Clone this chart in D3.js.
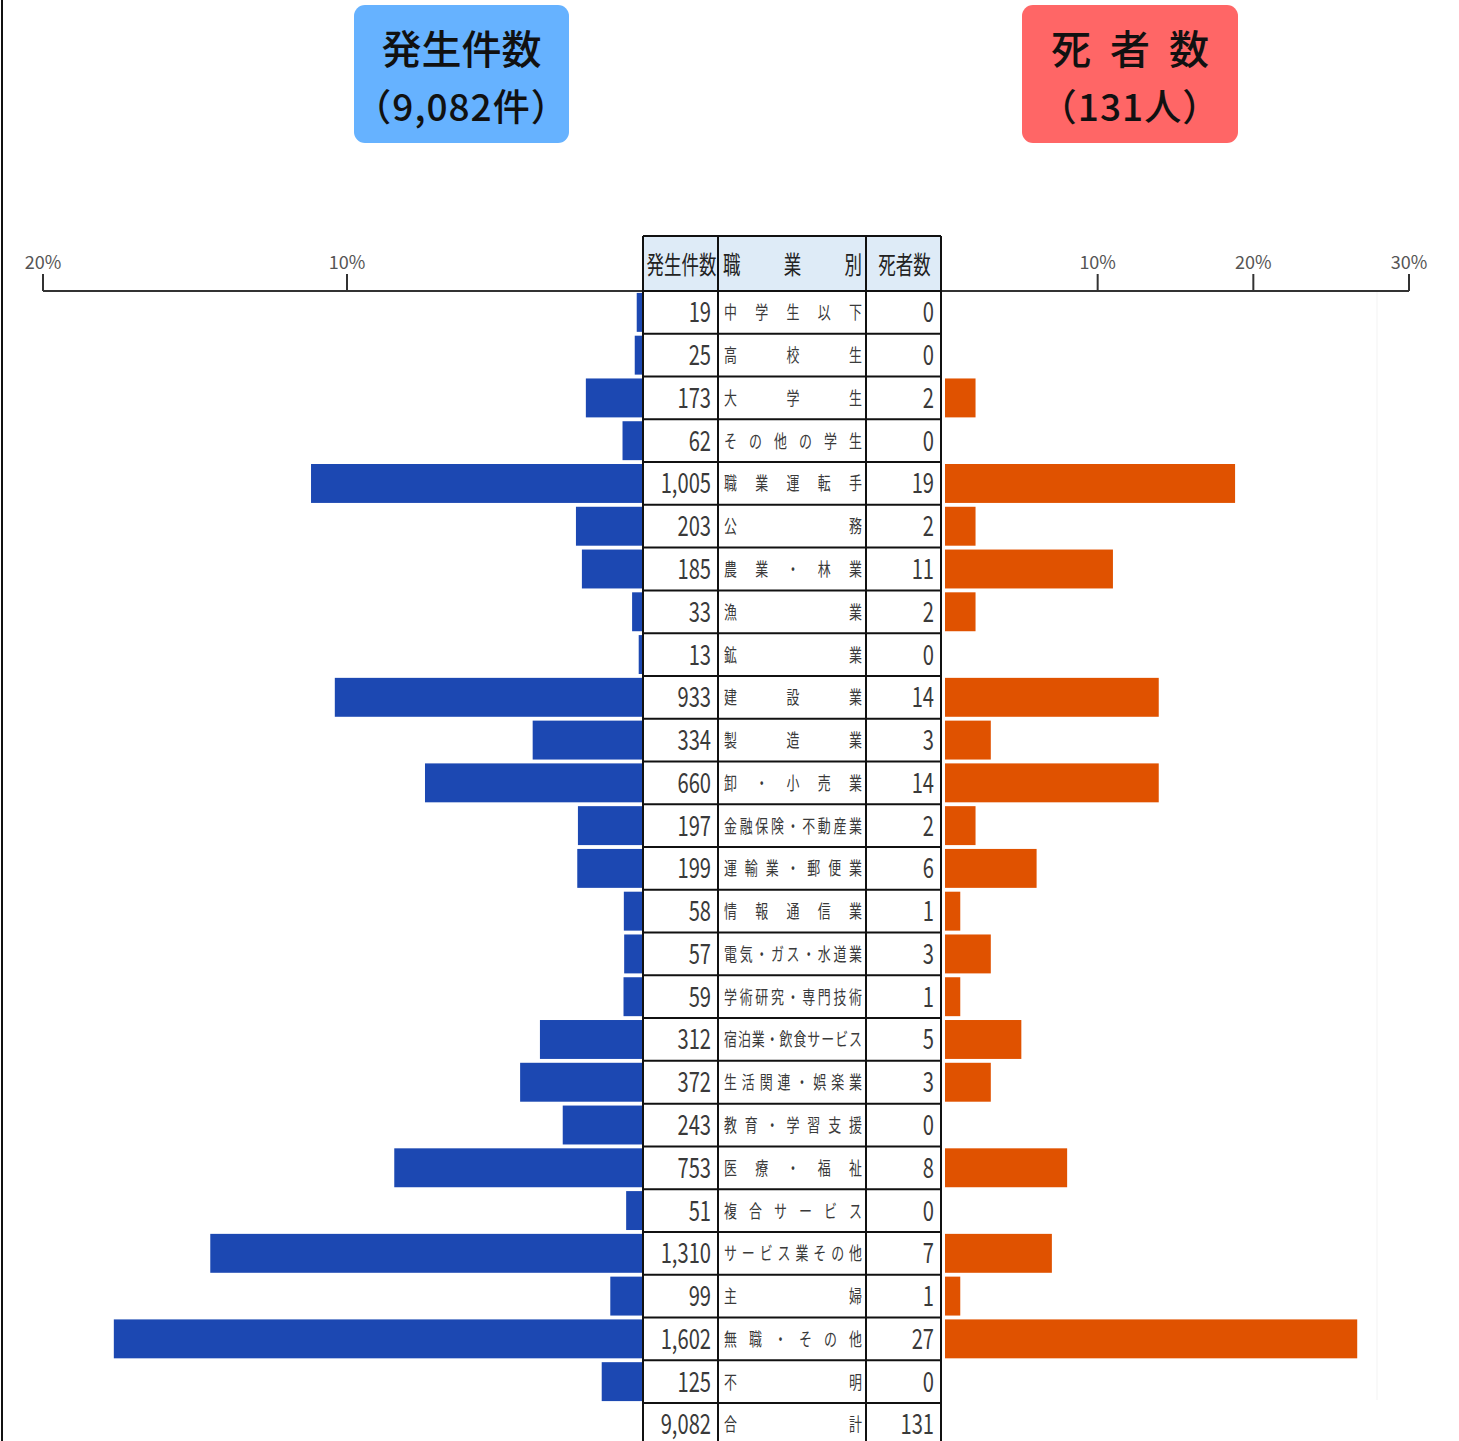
<!DOCTYPE html>
<html>
<head>
<meta charset="utf-8">
<script src="https://cdn.jsdelivr.net/npm/d3@7"></script>
<style>
  html, body { margin: 0; padding: 0; background: #fff; }
  svg { display: block; }
</style>
</head>
<body>
<div id="chart"></div>
<script>
// occupation rows, top to bottom
const categories = [
  "中学生以下", "高校生", "大学生", "その他の学生", "職業運転手", "公務",
  "農業・林業", "漁業", "鉱業", "建設業", "製造業", "卸・小売業",
  "金融保険・不動産業", "運輸業・郵便業", "情報通信業", "電気・ガス・水道業",
  "学術研究・専門技術", "宿泊業・飲食サービス", "生活関連・娯楽業", "教育・学習支援",
  "医療・福祉", "複合サービス", "サービス業その他", "主婦", "無職・その他", "不明"
];
const cases = [19, 25, 173, 62, 1005, 203, 185, 33, 13, 933, 334, 660, 197, 199, 58, 57, 59, 312, 372, 243, 753, 51, 1310, 99, 1602, 125];
const deaths = [0, 0, 2, 0, 19, 2, 11, 2, 0, 14, 3, 14, 2, 6, 1, 3, 1, 5, 3, 0, 8, 0, 7, 1, 27, 0];
const totalLabel = "合計";
const leftTicks = [20, 10];
const rightTicks = [10, 20, 30];
const headers = ["発生件数", "職業別", "死者数"];
const titleLeft = ["発生件数", "（9,082件）"];
const titleRight = ["死 者 数", "（131人）"];

const W = 1459, H = 1441;
const totalCases = d3.sum(cases);
const totalDeaths = d3.sum(deaths);
const fmt = d3.format(",");

const svg = d3.select("#chart").append("svg")
  .attr("width", W).attr("height", H)
  .style("font-family", "'Noto Sans CJK JP', 'Noto Sans', sans-serif");

// table geometry
const colX = [643, 718, 866, 941];
const headTop = 236;
const bodyTop = 291;
const rowH = 42.77;
const rowCount = categories.length + 1;

// scales
const yRow = d3.scaleBand().domain(d3.range(rowCount))
  .range([bodyTop, bodyTop + rowH * rowCount]);
const yBar = d3.scaleBand().domain(categories)
  .range([bodyTop, bodyTop + rowH * categories.length])
  .paddingInner(0.09).paddingOuter(0.045);
const xCases = d3.scaleLinear().domain([0, 20]).range([643, 43]);
const xLeftAxis = d3.scaleLinear().domain([0, 10, 20]).range([643, 347, 43]);
const xDeaths = d3.scaleLinear().domain([0, 30]).range([945, 1545]);
const xRightAxis = d3.scaleLinear().domain([0, 30]).range([942, 1409]);

// frame line on the left
svg.append("line").attr("x1", 2).attr("x2", 2).attr("y1", 0).attr("y2", H)
  .attr("stroke", "#111").attr("stroke-width", 2);

// faint plot-area edge
svg.append("line").attr("x1", 1377).attr("x2", 1377).attr("y1", 292).attr("y2", 1400)
  .attr("stroke", "#f3f3f3").attr("stroke-width", 1);

// title boxes
function titleBox(x, w, fill, lines, spacing) {
  const g = svg.append("g");
  g.append("rect").attr("x", x).attr("y", 5).attr("width", w).attr("height", 138)
    .attr("rx", 11).attr("fill", fill);
  g.append("text").attr("x", x + w / 2 + spacing / 2).attr("y", 64)
    .attr("text-anchor", "middle").attr("font-size", 40).attr("font-weight", 500)
    .attr("letter-spacing", spacing).attr("fill", "#111").text(lines[0]);
  g.append("text").attr("x", x + w / 2).attr("y", 121)
    .attr("text-anchor", "middle").attr("font-size", 37).attr("font-weight", 500)
    .attr("letter-spacing", 1).attr("fill", "#111").text(lines[1]);
}
titleBox(354, 215, "#66b2ff", titleLeft, 0);
titleBox(1022, 216, "#ff6666", titleRight, 5);

// axes
const axisY = 291;
const axisG = svg.append("g").attr("stroke", "#333").attr("stroke-width", 2);
axisG.append("line").attr("x1", xLeftAxis(20)).attr("x2", 643).attr("y1", axisY).attr("y2", axisY);
axisG.append("line").attr("x1", 941).attr("x2", xRightAxis(30)).attr("y1", axisY).attr("y2", axisY);
axisG.selectAll(".lt").data(leftTicks).join("line")
  .attr("x1", d => xLeftAxis(d)).attr("x2", d => xLeftAxis(d))
  .attr("y1", axisY - 17).attr("y2", axisY);
axisG.selectAll(".rt").data(rightTicks).join("line")
  .attr("class", "rt")
  .attr("x1", d => xRightAxis(d)).attr("x2", d => xRightAxis(d))
  .attr("y1", axisY - 17).attr("y2", axisY);
svg.selectAll(".ltl").data(leftTicks).join("text")
  .attr("class", "ltl")
  .attr("x", d => xLeftAxis(d)).attr("y", 269)
  .attr("text-anchor", "middle").attr("font-size", 18).attr("fill", "#555")
  .text(d => d + "%");
svg.selectAll(".rtl").data(rightTicks).join("text")
  .attr("class", "rtl")
  .attr("x", d => xRightAxis(d)).attr("y", 269)
  .attr("text-anchor", "middle").attr("font-size", 18).attr("fill", "#555")
  .text(d => d + "%");

// bars
svg.append("g").selectAll("rect").data(categories).join("rect")
  .attr("x", (d, i) => xCases(cases[i] / totalCases * 100))
  .attr("y", d => yBar(d))
  .attr("width", (d, i) => 643 - xCases(cases[i] / totalCases * 100))
  .attr("height", yBar.bandwidth())
  .attr("fill", "#1c48b2");
svg.append("g").selectAll("rect").data(categories).join("rect")
  .attr("x", xDeaths(0))
  .attr("y", d => yBar(d))
  .attr("width", (d, i) => xDeaths(deaths[i] / totalDeaths * 100) - xDeaths(0))
  .attr("height", yBar.bandwidth())
  .attr("fill", "#e05200");

// table header background
svg.append("rect").attr("x", colX[0]).attr("y", headTop)
  .attr("width", colX[3] - colX[0]).attr("height", bodyTop - headTop)
  .attr("fill", "#deebf7");
svg.append("rect").attr("x", colX[0]).attr("y", bodyTop)
  .attr("width", colX[3] - colX[0]).attr("height", H - bodyTop)
  .attr("fill", "#fff");

// condensed text helper
function squeezed(g, x, y, str, size, sx, anchor, color) {
  g.append("text")
    .attr("transform", `translate(${x},${y}) scale(${sx},1)`)
    .attr("text-anchor", anchor).attr("font-size", size).attr("fill", color)
    .text(str);
}

// spread characters across the label column
function spread(g, str, left, right, y, size, sx, color) {
  const chars = Array.from(str);
  const cw = size * sx;
  const n = chars.length;
  chars.forEach((c, i) => {
    const cx = n === 1 ? left + cw / 2 : left + cw / 2 + i * (right - left - cw) / (n - 1);
    squeezed(g, cx, y, c, size, sx, "middle", color);
  });
}

const head = svg.append("g");
squeezed(head, (colX[0] + colX[1]) / 2 + 1, 274, headers[0], 25, 0.7, "middle", "#222");
spread(head, headers[1], 723, 862, 274, 25, 0.7, "#222");
squeezed(head, (colX[2] + colX[3]) / 2 + 1, 274, headers[2], 25, 0.7, "middle", "#222");

// body text
const rows = categories.map((c, i) => ({ label: c, cases: cases[i], deaths: deaths[i] }));
rows.push({ label: totalLabel, cases: totalCases, deaths: totalDeaths });
const body = svg.append("g");
rows.forEach((r, i) => {
  const cy = yRow(i) + rowH / 2;
  squeezed(body, 711, cy + 10, fmt(r.cases), 28, 0.72, "end", "#3a3a3a");
  squeezed(body, 934, cy + 10, fmt(r.deaths), 28, 0.72, "end", "#3a3a3a");
  spread(body, r.label, 724, 862, cy + 7, 18, 0.72, "#3a3a3a");
});

// table grid
const grid = svg.append("g").attr("stroke", "#111").attr("stroke-width", 2);
colX.forEach(x => {
  grid.append("line").attr("x1", x).attr("x2", x).attr("y1", headTop).attr("y2", H);
});
grid.append("line").attr("x1", colX[0]).attr("x2", colX[3]).attr("y1", headTop).attr("y2", headTop);
d3.range(rowCount + 1).forEach(i => {
  const y = bodyTop + i * rowH;
  if (y < H) {
    grid.append("line").attr("x1", colX[0]).attr("x2", colX[3]).attr("y1", y).attr("y2", y);
  }
});
</script>
</body>
</html>
